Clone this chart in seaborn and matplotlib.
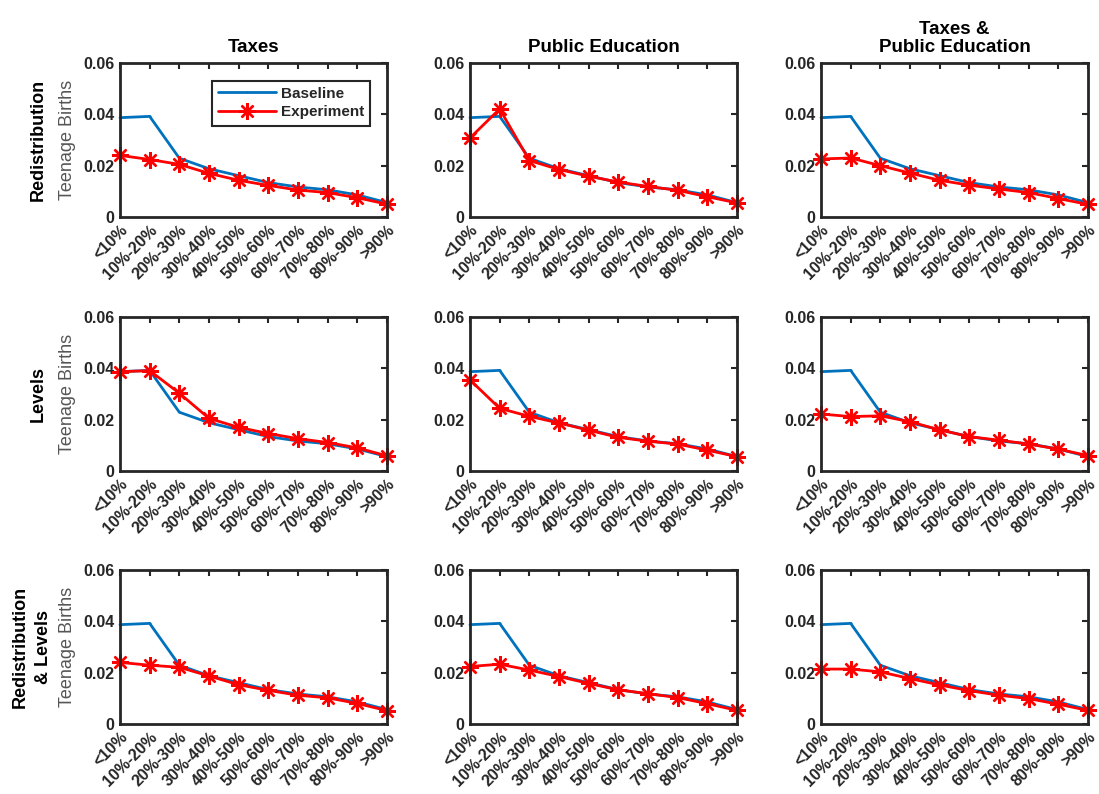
import numpy as np
import pandas as pd
import matplotlib
matplotlib.use('Agg')
import matplotlib.pyplot as plt
import seaborn as sns

# income deciles on the x axis
deciles = ['<10%', '10%-20%', '20%-30%', '30%-40%', '40%-50%',
           '50%-60%', '60%-70%', '70%-80%', '80%-90%', '>90%']

col_titles = ['Taxes', 'Public Education', 'Taxes &\nPublic Education']
row_titles = ['Redistribution', 'Levels', 'Redistribution\n& Levels']

# baseline teenage births share (same in every panel)
baseline = [0.0387, 0.0392, 0.0229, 0.0188, 0.0161, 0.0134, 0.0117, 0.0106, 0.0086, 0.0056]

# experiment values, row = policy type, col = instrument
exp_redis_taxes = [0.0240, 0.0224, 0.0205, 0.0170, 0.0143, 0.0123, 0.0105, 0.0095, 0.0075, 0.0050]
exp_redis_pubed = [0.0308, 0.0421, 0.0220, 0.0185, 0.0159, 0.0136, 0.0119, 0.0104, 0.0079, 0.0055]
exp_redis_both = [0.0226, 0.0230, 0.0200, 0.0171, 0.0143, 0.0124, 0.0109, 0.0095, 0.0072, 0.0049]

exp_levels_taxes = [0.0387, 0.0391, 0.0303, 0.0205, 0.0170, 0.0146, 0.0126, 0.0111, 0.0090, 0.0059]
exp_levels_pubed = [0.0355, 0.0244, 0.0213, 0.0187, 0.0159, 0.0131, 0.0116, 0.0105, 0.0081, 0.0056]
exp_levels_both = [0.0222, 0.0212, 0.0215, 0.0192, 0.0160, 0.0134, 0.0120, 0.0105, 0.0085, 0.0060]

exp_rl_taxes = [0.0240, 0.0229, 0.0221, 0.0187, 0.0153, 0.0131, 0.0112, 0.0102, 0.0080, 0.0052]
exp_rl_pubed = [0.0224, 0.0233, 0.0210, 0.0185, 0.0158, 0.0133, 0.0118, 0.0103, 0.0079, 0.0053]
exp_rl_both = [0.0214, 0.0214, 0.0203, 0.0177, 0.0152, 0.0130, 0.0112, 0.0099, 0.0077, 0.0053]

experiments = [
    [exp_redis_taxes, exp_redis_pubed, exp_redis_both],
    [exp_levels_taxes, exp_levels_pubed, exp_levels_both],
    [exp_rl_taxes, exp_rl_pubed, exp_rl_both],
]

sns.set_style('white')
plt.rcParams['font.family'] = ['Liberation Sans', 'DejaVu Sans']

DARK = '#262626'
BLUE = '#0072BD'
RED = '#FF0000'
ASTERISK = (8, 2, 0)

W, H = 1099, 794
fig = plt.figure(figsize=(W / 100, H / 100), dpi=100)

col_left = [120, 470, 821]
row_top = [63, 317, 570]
ax_w, ax_h = 267, 154

xpos = np.arange(len(deciles))

for r in range(3):
    for c in range(3):
        left = col_left[c] / W
        bottom = 1 - (row_top[r] + ax_h) / H
        ax = fig.add_axes([left, bottom, ax_w / W, ax_h / H])

        df = pd.DataFrame({'x': xpos, 'Baseline': baseline,
                           'Experiment': experiments[r][c]})
        sns.lineplot(data=df, x='x', y='Baseline', ax=ax, color=BLUE,
                     linewidth=2, marker='.', markersize=3, markeredgewidth=0,
                     label='Baseline', legend=False, clip_on=False)
        sns.lineplot(data=df, x='x', y='Experiment', ax=ax, color=RED,
                     linewidth=2, marker=ASTERISK, markersize=12,
                     markeredgewidth=1.7, markeredgecolor=RED,
                     label='Experiment', legend=False, clip_on=False)

        ax.set_xlim(0, len(deciles) - 1)
        ax.set_ylim(0, 0.06)
        ax.set_yticks([0, 0.02, 0.04, 0.06])
        ax.set_yticklabels(['0', '0.02', '0.04', '0.06'])
        ax.set_xticks(xpos)
        ax.set_xticklabels(deciles, rotation=45, ha='right',
                           rotation_mode='anchor')
        ax.tick_params(direction='in', top=True, right=True, length=4,
                       width=1.5, colors=DARK, labelsize=11.5, pad=4)
        for lab in ax.get_xticklabels() + ax.get_yticklabels():
            lab.set_fontweight('bold')
            lab.set_color(DARK)
        for sp in ax.spines.values():
            sp.set_visible(True)
            sp.set_color(DARK)
            sp.set_linewidth(2)
            sp.set_zorder(3)

        ax.set_xlabel('')
        if c == 0:
            ax.set_ylabel('Teenage Births', fontsize=13, color='#555555')
            ax.yaxis.set_label_coords(-0.165, 0.5)
            lab_x = -0.305 if r < 2 else -0.33
            ax.text(lab_x, 0.5, row_titles[r], transform=ax.transAxes,
                    rotation=90, ha='center', va='center', fontsize=13,
                    fontweight='bold', color='black', linespacing=1.45)
        else:
            ax.set_ylabel('')

        if r == 0:
            ax.set_title(col_titles[c], fontsize=13.5, fontweight='bold',
                         color='black', pad=8, linespacing=1.05)

        if r == 0 and c == 0:
            leg = ax.legend(loc='upper right', bbox_to_anchor=(0.937, 0.885),
                            borderaxespad=0, frameon=True, fancybox=False,
                            framealpha=1, edgecolor=DARK, handlelength=3.8,
                            handletextpad=0.3,
                            prop={'weight': 'bold', 'size': 11},
                            borderpad=0.4, labelspacing=0.3)
            leg.get_frame().set_linewidth(1.5)

fig.savefig('out.png', dpi=100, facecolor='white')
